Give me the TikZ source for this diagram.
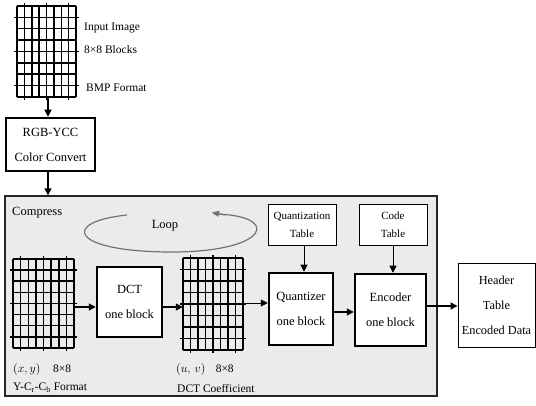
\documentclass[tikz,border=0pt]{standalone}
\usepackage{fontspec}
\setmainfont{Liberation Serif}
\usetikzlibrary{arrows.meta}
\begin{document}
\begin{tikzpicture}[x=1pt,y=-1pt,
  thickbox/.style={draw=black,line width=2.5pt,fill=white,align=center,inner sep=0pt,font=\fontsize{12.5}{25}\selectfont},
  thinbox/.style={draw=black,line width=0.9pt,fill=white,align=center,inner sep=0pt,font=\fontsize{11}{18}\selectfont},
  arr/.style={-{Triangle[length=7pt,width=7pt]},line width=1.2pt},
  lbl/.style={anchor=west,inner sep=0pt,font=\fontsize{11.5}{13}\selectfont},
  gridline/.style={line width=1.5pt}]
\useasboundingbox (0,0) rectangle (536,406);
% grid helper
\newcommand{\blockgrid}[5]{% name, x0, y0, x1, y1
  \foreach \i in {0,...,8}{
    \pgfmathsetmacro{\xx}{#2+(#4-#2)*\i/8}
    \pgfmathsetmacro{\yy}{#3+(#5-#3)*\i/8}
    \pgfmathsetmacro{\ext}{mod(\i,3)==1 ? 3 : 0}
    \draw[gridline] (\xx,#3-\ext) -- (\xx,#5+\ext);
    \draw[gridline] (#2-\ext,\yy) -- (#4+\ext,\yy);
  }
  \node[inner sep=0pt,minimum width={#4-#2},minimum height={#5-#3}] (#1) at ({(#2+#4)/2},{(#3+#5)/2}) {};
}
% compress region
\node[draw=black!85,line width=1.3pt,fill=black!8,minimum width=432pt,minimum height=200pt,inner sep=0pt] (compress) at (221,296) {};
\node[lbl,font=\fontsize{12.5}{14}\selectfont] (complbl) at (12,213) {Compress};
% top grid
\blockgrid{img}{17}{6}{76}{97}
\node[lbl] (t1) at (84,28) {Input Image};
\node[lbl] (t2) at (84,50) {8×8 Blocks};
\node[lbl] (t3) at (86,88) {BMP Format};
% RGB-YCC
\node[thickbox,minimum width=89pt,minimum height=53pt] (rgb) at (50.5,144.5) {RGB-YCC\\Color Convert};
\draw[arr] (img.south -| 48,0) -- (rgb.north -| 48,0);
\draw[arr] (rgb.south -| 48,0) -- (compress.north -| 48,0);
% loop
\draw[black!55,line width=1.2pt] (127,215) .. controls (60,222) and (70,252) .. (172,252) .. controls (270,252) and (282,215) .. (214,214);
\draw[black!55,line width=1.2pt,-{Triangle[length=7pt,width=6pt]}] (225,215) -- (212,212.5);
\node[inner sep=0pt,font=\fontsize{12.5}{14}\selectfont] (looplbl) at (165,226) {Loop};
% inner grids
\blockgrid{g1}{13}{259}{74}{348}
\blockgrid{g2}{183}{258}{243}{350}
\node[lbl] (l1) at (13,369) {$(x,y)$\hspace{1.1em}8×8};
\node[lbl] (l2) at (13,388) {Y-C\textsubscript{r}-C\textsubscript{b} Format};
\node[lbl] (l3) at (176,369) {$(u,\,v)$\hspace{0.9em}8×8};
\node[lbl] (l4) at (177,389) {DCT Coefficient};
% DCT
\node[thickbox,minimum width=65pt,minimum height=70pt] (dct) at (129.5,302) {DCT\\one block};
% quantizer & tables
\node[thinbox,minimum width=68pt,minimum height=41pt] (qt) at (302,224.5) {Quantization\\Table};
\node[thickbox,minimum width=64pt,minimum height=72pt] (quant) at (301,309) {Quantizer\\one block};
\node[thinbox,minimum width=68pt,minimum height=41pt] (ct) at (393,224.5) {Code\\Table};
\node[thickbox,minimum width=71pt,minimum height=72pt] (enc) at (390.5,310) {Encoder\\one block};
\node[thinbox,minimum width=77pt,minimum height=84pt,font=\fontsize{12.3}{25}\selectfont] (hdr) at (496.5,305) {Header\\Table\\Encoded Data};
% arrows
\draw[arr] (g1.east |- 0,307) -- (dct.west |- 0,307);
\draw[arr] (dct.east |- 0,307) -- (g2.west |- 0,307);
\draw[arr,line width=0.8pt] (g2.east |- 0,303) -- (quant.west |- 0,303);
\draw[arr,line width=0.8pt] (qt.south -| 304,0) -- (quant.north -| 304,0);
\draw[arr,line width=0.8pt] (ct.south -| 393,0) -- (enc.north -| 393,0);
\draw[arr] (quant.east |- 0,312) -- (enc.west |- 0,312);
\draw[arr] (enc.east |- 0,306) -- (hdr.west |- 0,306);
\end{tikzpicture}
\end{document}
